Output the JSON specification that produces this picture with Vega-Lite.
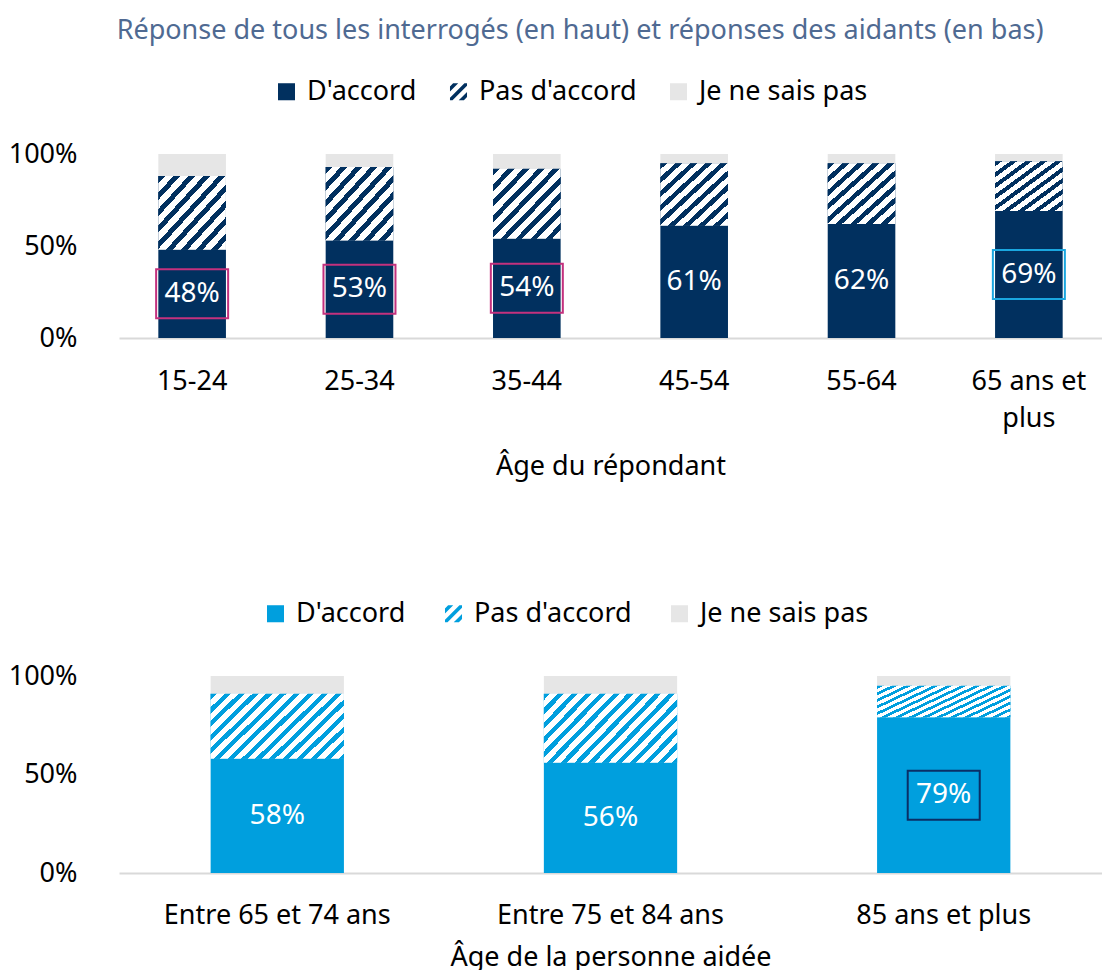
{
  "$schema": "https://vega.github.io/schema/vega-lite/v6.json",
  "background": "white",
  "padding": {"left": 8, "top": 17, "right": 0, "bottom": 0},
  "title": {
    "text": "Réponse de tous les interrogés (en haut) et réponses des aidants (en bas)",
    "fontSize": 27, "fontWeight": "normal", "color": "#4F6A92", "font": "Noto Sans",
    "anchor": "middle", "dx": 25, "offset": 33
  },
  "config": {
    "font": "Noto Sans",
    "view": {"stroke": null},
    "axis": {"labelFont": "Noto Sans", "titleFont": "Noto Sans", "labelColor": "#000000", "titleColor": "#000000", "labelFontSize": 27, "titleFontSize": 27, "titleFontWeight": "normal", "grid": false, "ticks": false, "labelLimit": 0},
    "legend": {"labelFont": "Noto Sans", "labelFontSize": 27, "labelColor": "#000000", "symbolType": "square", "symbolSize": 290, "symbolStrokeWidth": 0, "labelOffset": 7, "columnPadding": 35, "direction": "horizontal", "orient": "none", "title": null, "labelLimit": 0}
  },
  "spacing": 121,
  "resolve": {"scale": {"color": "independent", "stroke": "independent", "x": "independent", "y": "independent"}, "legend": {"color": "independent"}},
  "vconcat": [
    {
      "width": 983,
      "height": 184,
      "data": {"values": [
        {"age": "15-24", "reponse": "D'accord", "ordre": 1, "valeur": 48, "cadre": "rose"},
        {"age": "15-24", "reponse": "Pas d'accord", "ordre": 2, "valeur": 40},
        {"age": "15-24", "reponse": "Je ne sais pas", "ordre": 3, "valeur": 12},
        {"age": "25-34", "reponse": "D'accord", "ordre": 1, "valeur": 53, "cadre": "rose"},
        {"age": "25-34", "reponse": "Pas d'accord", "ordre": 2, "valeur": 40},
        {"age": "25-34", "reponse": "Je ne sais pas", "ordre": 3, "valeur": 7},
        {"age": "35-44", "reponse": "D'accord", "ordre": 1, "valeur": 54, "cadre": "rose"},
        {"age": "35-44", "reponse": "Pas d'accord", "ordre": 2, "valeur": 38},
        {"age": "35-44", "reponse": "Je ne sais pas", "ordre": 3, "valeur": 8},
        {"age": "45-54", "reponse": "D'accord", "ordre": 1, "valeur": 61},
        {"age": "45-54", "reponse": "Pas d'accord", "ordre": 2, "valeur": 34},
        {"age": "45-54", "reponse": "Je ne sais pas", "ordre": 3, "valeur": 5},
        {"age": "55-64", "reponse": "D'accord", "ordre": 1, "valeur": 62},
        {"age": "55-64", "reponse": "Pas d'accord", "ordre": 2, "valeur": 33},
        {"age": "55-64", "reponse": "Je ne sais pas", "ordre": 3, "valeur": 5},
        {"age": "65 ans et plus", "reponse": "D'accord", "ordre": 1, "valeur": 69, "cadre": "bleu"},
        {"age": "65 ans et plus", "reponse": "Pas d'accord", "ordre": 2, "valeur": 27},
        {"age": "65 ans et plus", "reponse": "Je ne sais pas", "ordre": 3, "valeur": 4}
      ]},
      "resolve": {"scale": {"y": "independent"}},
      "layer": [
        {
          "mark": {"type": "bar"},
          "encoding": {
            "x": {"field": "age", "type": "nominal", "sort": null,
                  "scale": {"paddingInner": 0.596, "paddingOuter": 0.235},
                  "axis": {"title": "Âge du répondant", "labelAngle": 0, "labelPadding": 30, "titlePadding": 22, "domainColor": "#D9D9D9", "domainWidth": 2, "labelLineHeight": 37,
                           "labelExpr": "datum.label == '65 ans et plus' ? ['65 ans et', 'plus'] : datum.label"}},
            "y": {"field": "valeur", "type": "quantitative", "stack": "zero",
                  "scale": {"domain": [0, 100], "nice": false},
                  "axis": {"title": null, "values": [0, 50, 100], "domain": false, "labelPadding": 42, "labelExpr": "datum.value + '%'"}},
            "color": {"field": "reponse", "type": "nominal",
                      "scale": {"domain": ["D'accord", "Pas d'accord", "Je ne sais pas"], "range": ["#01305F", "#01305F", "#E6E6E6"]},
                      "legend": {"legendX": 154, "legendY": -76, "columnPadding": 28,
                                 "encode": {"symbols": {"update": {"shape": [
                                   {"test": "datum.value === \"Pas d'accord\"", "value": "M-1,0.7L0.7,-1L1,-1L1,-0.7L-0.7,1L-1,1Z M-1,-0.63L-0.63,-1L-0.03,-1L-1,-0.03Z M1,0.63L0.63,1L0.03,1L1,0.03Z"},
                                   {"value": "square"}]}}}}},
            "order": {"field": "ordre", "type": "quantitative", "sort": "ascending"}
          }
        },
        {
          "mark": {"type": "bar", "color": {"gradient": "linear", "x1": 0, "y1": 0, "x2": 1, "y2": 1, "stops": [
                                    {"offset": 0, "color": "#01305F"}, {"offset": 0.05, "color": "#01305F"}, {"offset": 0.05, "color": "#ffffff"}, {"offset": 0.1111, "color": "#ffffff"},
                                    {"offset": 0.1111, "color": "#01305F"}, {"offset": 0.1611, "color": "#01305F"}, {"offset": 0.1611, "color": "#ffffff"}, {"offset": 0.2222, "color": "#ffffff"},
                                    {"offset": 0.2222, "color": "#01305F"}, {"offset": 0.2722, "color": "#01305F"}, {"offset": 0.2722, "color": "#ffffff"}, {"offset": 0.3333, "color": "#ffffff"},
                                    {"offset": 0.3333, "color": "#01305F"}, {"offset": 0.3833, "color": "#01305F"}, {"offset": 0.3833, "color": "#ffffff"}, {"offset": 0.4444, "color": "#ffffff"},
                                    {"offset": 0.4444, "color": "#01305F"}, {"offset": 0.4944, "color": "#01305F"}, {"offset": 0.4944, "color": "#ffffff"}, {"offset": 0.5556, "color": "#ffffff"},
                                    {"offset": 0.5556, "color": "#01305F"}, {"offset": 0.6056, "color": "#01305F"}, {"offset": 0.6056, "color": "#ffffff"}, {"offset": 0.6667, "color": "#ffffff"},
                                    {"offset": 0.6667, "color": "#01305F"}, {"offset": 0.7167, "color": "#01305F"}, {"offset": 0.7167, "color": "#ffffff"}, {"offset": 0.7778, "color": "#ffffff"},
                                    {"offset": 0.7778, "color": "#01305F"}, {"offset": 0.8278, "color": "#01305F"}, {"offset": 0.8278, "color": "#ffffff"}, {"offset": 0.8889, "color": "#ffffff"},
                                    {"offset": 0.8889, "color": "#01305F"}, {"offset": 0.9389, "color": "#01305F"}, {"offset": 0.9389, "color": "#ffffff"}, {"offset": 1, "color": "#ffffff"}
                                  ]}},
          "encoding": {
            "x": {"field": "age", "type": "nominal", "sort": null},
            "y": {"field": "valeur", "type": "quantitative", "stack": "zero", "scale": {"domain": [0, 100], "nice": false}, "axis": null},
            "order": {"field": "ordre", "type": "quantitative", "sort": "ascending"},
            "opacity": {"condition": {"test": "datum.reponse === \"Pas d'accord\"", "value": 1}, "value": 0}
          }
        },
        {
          "transform": [{"filter": "datum.reponse === \"D'accord\""}],
          "mark": {"type": "text", "color": "#ffffff", "fontSize": 28, "align": "center", "baseline": "middle", "text": {"expr": "datum.valeur + '%'"}},
          "encoding": {
            "x": {"field": "age", "type": "nominal", "sort": null},
            "y": {"field": "valeur", "type": "quantitative", "scale": {"domain": [0, 200], "nice": false}, "axis": null}
          }
        },
        {
          "transform": [{"filter": "datum.reponse === \"D'accord\" && datum.cadre != null"}],
          "mark": {"type": "point", "shape": "M-1,-0.68H1V0.68H-1Z", "size": 5184, "filled": false, "strokeWidth": 2, "opacity": 1},
          "encoding": {
            "x": {"field": "age", "type": "nominal", "sort": null},
            "y": {"field": "valeur", "type": "quantitative", "scale": {"domain": [0, 200], "nice": false}, "axis": null},
            "stroke": {"field": "cadre", "type": "nominal", "scale": {"domain": ["rose", "bleu"], "range": ["#C3317E", "#1AA7E0"]}, "legend": null}
          }
        }
      ]
    },
    {
      "width": 983,
      "height": 197,
      "data": {"values": [
        {"age": "Entre 65 et 74 ans", "reponse": "D'accord", "ordre": 1, "valeur": 58},
        {"age": "Entre 65 et 74 ans", "reponse": "Pas d'accord", "ordre": 2, "valeur": 33},
        {"age": "Entre 65 et 74 ans", "reponse": "Je ne sais pas", "ordre": 3, "valeur": 9},
        {"age": "Entre 75 et 84 ans", "reponse": "D'accord", "ordre": 1, "valeur": 56},
        {"age": "Entre 75 et 84 ans", "reponse": "Pas d'accord", "ordre": 2, "valeur": 35},
        {"age": "Entre 75 et 84 ans", "reponse": "Je ne sais pas", "ordre": 3, "valeur": 9},
        {"age": "85 ans et plus", "reponse": "D'accord", "ordre": 1, "valeur": 79, "cadre": "marine"},
        {"age": "85 ans et plus", "reponse": "Pas d'accord", "ordre": 2, "valeur": 16},
        {"age": "85 ans et plus", "reponse": "Je ne sais pas", "ordre": 3, "valeur": 5}
      ]},
      "resolve": {"scale": {"y": "independent"}},
      "layer": [
        {
          "mark": {"type": "bar"},
          "encoding": {
            "x": {"field": "age", "type": "nominal", "sort": null,
                  "scale": {"paddingInner": 0.6, "paddingOuter": 0.275},
                  "axis": {"title": "Âge de la personne aidée", "labelAngle": 0, "labelPadding": 29, "titlePadding": 16, "domainColor": "#D9D9D9", "domainWidth": 2}},
            "y": {"field": "valeur", "type": "quantitative", "stack": "zero",
                  "scale": {"domain": [0, 100], "nice": false},
                  "axis": {"title": null, "values": [0, 50, 100], "domain": false, "labelPadding": 42, "labelExpr": "datum.value + '%'"}},
            "color": {"field": "reponse", "type": "nominal",
                      "scale": {"domain": ["D'accord", "Pas d'accord", "Je ne sais pas"], "range": ["#009FDE", "#009FDE", "#E6E6E6"]},
                      "legend": {"legendX": 143, "legendY": -76, "columnPadding": 34,
                                 "encode": {"symbols": {"update": {"shape": [
                                   {"test": "datum.value === \"Pas d'accord\"", "value": "M-1,0.7L0.7,-1L1,-1L1,-0.7L-0.7,1L-1,1Z M-1,-0.63L-0.63,-1L-0.03,-1L-1,-0.03Z M1,0.63L0.63,1L0.03,1L1,0.03Z"},
                                   {"value": "square"}]}}}}},
            "order": {"field": "ordre", "type": "quantitative", "sort": "ascending"}
          }
        },
        {
          "mark": {"type": "bar", "color": {"gradient": "linear", "x1": 0, "y1": 0, "x2": 1.5, "y2": 0.75, "stops": [
                                    {"offset": 0, "color": "#009FDE"}, {"offset": 0.025, "color": "#009FDE"}, {"offset": 0.025, "color": "#ffffff"}, {"offset": 0.0556, "color": "#ffffff"},
                                    {"offset": 0.0556, "color": "#009FDE"}, {"offset": 0.0806, "color": "#009FDE"}, {"offset": 0.0806, "color": "#ffffff"}, {"offset": 0.1111, "color": "#ffffff"},
                                    {"offset": 0.1111, "color": "#009FDE"}, {"offset": 0.1361, "color": "#009FDE"}, {"offset": 0.1361, "color": "#ffffff"}, {"offset": 0.1667, "color": "#ffffff"},
                                    {"offset": 0.1667, "color": "#009FDE"}, {"offset": 0.1917, "color": "#009FDE"}, {"offset": 0.1917, "color": "#ffffff"}, {"offset": 0.2222, "color": "#ffffff"},
                                    {"offset": 0.2222, "color": "#009FDE"}, {"offset": 0.2472, "color": "#009FDE"}, {"offset": 0.2472, "color": "#ffffff"}, {"offset": 0.2778, "color": "#ffffff"},
                                    {"offset": 0.2778, "color": "#009FDE"}, {"offset": 0.3028, "color": "#009FDE"}, {"offset": 0.3028, "color": "#ffffff"}, {"offset": 0.3333, "color": "#ffffff"},
                                    {"offset": 0.3333, "color": "#009FDE"}, {"offset": 0.3583, "color": "#009FDE"}, {"offset": 0.3583, "color": "#ffffff"}, {"offset": 0.3889, "color": "#ffffff"},
                                    {"offset": 0.3889, "color": "#009FDE"}, {"offset": 0.4139, "color": "#009FDE"}, {"offset": 0.4139, "color": "#ffffff"}, {"offset": 0.4444, "color": "#ffffff"},
                                    {"offset": 0.4444, "color": "#009FDE"}, {"offset": 0.4694, "color": "#009FDE"}, {"offset": 0.4694, "color": "#ffffff"}, {"offset": 0.5, "color": "#ffffff"},
                                    {"offset": 0.5, "color": "#009FDE"}, {"offset": 0.525, "color": "#009FDE"}, {"offset": 0.525, "color": "#ffffff"}, {"offset": 0.5556, "color": "#ffffff"},
                                    {"offset": 0.5556, "color": "#009FDE"}, {"offset": 0.5806, "color": "#009FDE"}, {"offset": 0.5806, "color": "#ffffff"}, {"offset": 0.6111, "color": "#ffffff"},
                                    {"offset": 0.6111, "color": "#009FDE"}, {"offset": 0.6361, "color": "#009FDE"}, {"offset": 0.6361, "color": "#ffffff"}, {"offset": 0.6667, "color": "#ffffff"},
                                    {"offset": 0.6667, "color": "#009FDE"}, {"offset": 0.6917, "color": "#009FDE"}, {"offset": 0.6917, "color": "#ffffff"}, {"offset": 0.7222, "color": "#ffffff"},
                                    {"offset": 0.7222, "color": "#009FDE"}, {"offset": 0.7472, "color": "#009FDE"}, {"offset": 0.7472, "color": "#ffffff"}, {"offset": 0.7778, "color": "#ffffff"},
                                    {"offset": 0.7778, "color": "#009FDE"}, {"offset": 0.8028, "color": "#009FDE"}, {"offset": 0.8028, "color": "#ffffff"}, {"offset": 1, "color": "#ffffff"}
                                  ]}},
          "encoding": {
            "x": {"field": "age", "type": "nominal", "sort": null},
            "y": {"field": "valeur", "type": "quantitative", "stack": "zero", "scale": {"domain": [0, 100], "nice": false}, "axis": null},
            "order": {"field": "ordre", "type": "quantitative", "sort": "ascending"},
            "opacity": {"condition": {"test": "datum.reponse === \"Pas d'accord\"", "value": 1}, "value": 0}
          }
        },
        {
          "transform": [{"filter": "datum.reponse === \"D'accord\""}],
          "mark": {"type": "text", "color": "#ffffff", "fontSize": 28, "align": "center", "baseline": "middle", "text": {"expr": "datum.valeur + '%'"}},
          "encoding": {
            "x": {"field": "age", "type": "nominal", "sort": null},
            "y": {"field": "valeur", "type": "quantitative", "scale": {"domain": [0, 200], "nice": false}, "axis": null}
          }
        },
        {
          "transform": [{"filter": "datum.reponse === \"D'accord\" && datum.cadre != null"}],
          "mark": {"type": "point", "shape": "M-1,-0.68H1V0.68H-1Z", "size": 5184, "filled": false, "strokeWidth": 2, "opacity": 1},
          "encoding": {
            "x": {"field": "age", "type": "nominal", "sort": null},
            "y": {"field": "valeur", "type": "quantitative", "scale": {"domain": [0, 200], "nice": false}, "axis": null},
            "stroke": {"field": "cadre", "type": "nominal", "scale": {"domain": ["marine"], "range": ["#0A2F66"]}, "legend": null}
          }
        }
      ]
    }
  ]
}
